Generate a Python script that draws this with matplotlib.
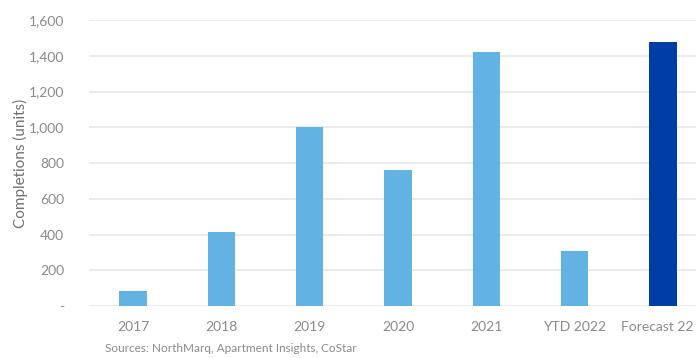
import matplotlib.pyplot as plt
import matplotlib.transforms as mtransforms
from matplotlib.ticker import FuncFormatter

categories = ["2017", "2018", "2019", "2020", "2021", "YTD 2022", "Forecast 22"]
completions = [86, 412, 1000, 760, 1420, 308, 1475]
bar_colors = ["#62B3E4"] * 6 + ["#003DA5"]

plt.rcParams["font.family"] = ["Lato", "DejaVu Sans"]

fig = plt.figure(figsize=(6.96, 3.58), dpi=100)
ax = fig.add_axes([89 / 696, 1 - 306 / 358, 618 / 696, 286 / 358])

x = range(len(categories))
ax.bar(x, completions, width=0.31, color=bar_colors, zorder=3)

ax.set_xlim(-0.5, 6.5)
ax.set_ylim(0, 1600)
ax.set_yticks(range(0, 1601, 200))
ax.yaxis.set_major_formatter(FuncFormatter(lambda v, p: "-" if v == 0 else f"{int(v):,}"))
ax.set_xticks(list(x))
ax.set_xticklabels(categories)

ax.grid(axis="y", color="#e8e8e8", linewidth=1.2, zorder=0)
for s in ax.spines.values():
    s.set_visible(False)
ax.tick_params(length=0, colors="#8a8a8a", labelsize=10)
ax.tick_params(axis="x", pad=11)
ax.tick_params(axis="y", pad=18)

# last label sits a little left of its bar so it stays inside the frame
last = ax.get_xticklabels()[-1]
last.set_transform(last.get_transform() + mtransforms.ScaledTranslation(-6 / 100, 0, fig.dpi_scale_trans))

ax.set_ylabel("Completions (units)", color="#707070", fontsize=11)
ax.yaxis.set_label_coords(-0.098, 0.5)

fig.text(105 / 696, 1 - 352 / 358, "Sources: NorthMarq, Apartment Insights, CoStar",
         color="#8a8a8a", fontsize=8.5, va="baseline")

fig.savefig("out.png", dpi=100)
